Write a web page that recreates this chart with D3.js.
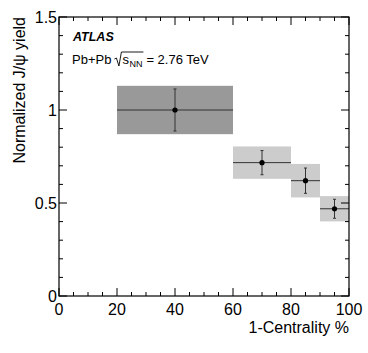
<!DOCTYPE html>
<html>
<head>
<meta charset="utf-8">
<script src="https://cdn.jsdelivr.net/npm/d3@7"></script>
<style>
  body { margin: 0; background: #fff; }
  text { font-family: "Liberation Sans", Arial, sans-serif; fill: #000; }
</style>
</head>
<body>
<div id="chart"></div>
<script>
"use strict";

// bins in 1-centrality (%)
const binLow = [20, 60, 80, 90];
const binHigh = [60, 80, 90, 100];
const binCenter = [40, 70, 85, 95];
// normalized J/psi yield
const yieldValue = [1.00, 0.717, 0.620, 0.469];
const statErr = [0.113, 0.065, 0.068, 0.051];
const sysErr = [0.130, 0.087, 0.090, 0.068];
const boxShade = ["#999999", "#cccccc", "#cccccc", "#cccccc"];

const xMajor = [0, 20, 40, 60, 80, 100];
const yMajor = [0, 0.5, 1, 1.5];

const data = binCenter.map((c, i) => ({
    lo: binLow[i], hi: binHigh[i], x: c,
    y: yieldValue[i], stat: statErr[i], sys: sysErr[i], fill: boxShade[i]
}));

const W = 368, H = 353;
const margin = { top: 17, right: 19, bottom: 57, left: 59 };
const width = W - margin.left - margin.right,
      height = H - margin.top - margin.bottom;

const svg = d3.select("#chart").append("svg")
    .attr("width", W).attr("height", H);
const g = svg.append("g")
    .attr("transform", "translate(" + margin.left + "," + margin.top + ")");

const x = d3.scaleLinear().domain([0, 100]).range([0, width]);
const y = d3.scaleLinear().domain([0, 1.5]).range([height, 0]);

// systematic boxes
g.selectAll("rect.sys").data(data).enter().append("rect")
    .attr("class", "sys")
    .attr("x", d => x(d.lo))
    .attr("width", d => x(d.hi) - x(d.lo))
    .attr("y", d => y(d.y + d.sys))
    .attr("height", d => y(d.y - d.sys) - y(d.y + d.sys))
    .attr("fill", d => d.fill);

// horizontal bars (bin width)
g.selectAll("line.hbar").data(data).enter().append("line")
    .attr("x1", d => x(d.lo)).attr("x2", d => x(d.hi))
    .attr("y1", d => y(d.y)).attr("y2", d => y(d.y))
    .attr("stroke", "#333").attr("stroke-width", 1);

// vertical stat error bars
g.selectAll("line.vbar").data(data).enter().append("line")
    .attr("x1", d => x(d.x)).attr("x2", d => x(d.x))
    .attr("y1", d => y(d.y + d.stat)).attr("y2", d => y(d.y - d.stat))
    .attr("stroke", "#333").attr("stroke-width", 1);
["stat+", "stat-"].forEach((k, j) => {
    g.selectAll("line.cap" + j).data(data).enter().append("line")
        .attr("x1", d => x(d.x) - 1.5).attr("x2", d => x(d.x) + 1.5)
        .attr("y1", d => y(j ? d.y - d.stat : d.y + d.stat))
        .attr("y2", d => y(j ? d.y - d.stat : d.y + d.stat))
        .attr("stroke", "#333").attr("stroke-width", 1);
});

// markers
g.selectAll("circle").data(data).enter().append("circle")
    .attr("cx", d => x(d.x)).attr("cy", d => y(d.y))
    .attr("r", 2.6).attr("fill", "#000");

// frame
g.append("rect").attr("width", width).attr("height", height)
    .attr("fill", "none").attr("stroke", "#000").attr("stroke-width", 1.2);

// ticks on all sides, pointing inward
const xMinor = d3.range(0, 101, 5);
const yMinor = d3.range(0, 16).map(i => i / 10);
const tickSel = g.append("g").attr("stroke", "#000").attr("stroke-width", 1);
xMinor.forEach(v => {
    const len = v % 20 === 0 ? 8 : 4;
    tickSel.append("line").attr("x1", x(v)).attr("x2", x(v)).attr("y1", height).attr("y2", height - len);
    tickSel.append("line").attr("x1", x(v)).attr("x2", x(v)).attr("y1", 0).attr("y2", len);
});
yMinor.forEach(v => {
    const len = Math.abs(v * 2 - Math.round(v * 2)) < 1e-6 ? 8 : 4;
    tickSel.append("line").attr("y1", y(v)).attr("y2", y(v)).attr("x1", 0).attr("x2", len);
    tickSel.append("line").attr("y1", y(v)).attr("y2", y(v)).attr("x1", width).attr("x2", width - len);
});

// tick labels
g.selectAll("text.xl").data(xMajor).enter().append("text")
    .attr("x", d => x(d)).attr("y", height + 19)
    .attr("text-anchor", "middle").attr("font-size", 16)
    .text(d => d);
g.selectAll("text.yl").data(yMajor).enter().append("text")
    .attr("x", -2).attr("y", d => y(d) + 6)
    .attr("text-anchor", "end").attr("font-size", 16)
    .text(d => d);

// axis titles
svg.append("text")
    .attr("x", W - margin.right).attr("y", 333)
    .attr("text-anchor", "end").attr("font-size", 16)
    .text("1-Centrality %");
svg.append("text")
    .attr("transform", "translate(25," + margin.top + ") rotate(-90)")
    .attr("text-anchor", "end").attr("font-size", 16)
    .text("Normalized J/\u03c8 yield");

// ATLAS label
svg.append("text")
    .attr("x", 73).attr("y", 41)
    .attr("font-size", 12.5).attr("font-weight", "bold").attr("font-style", "italic")
    .text("ATLAS");

// Pb+Pb sqrt(s_NN) = 2.76 TeV
const lx = 72, ly = 64, fs = 13;
const t1 = svg.append("text").attr("x", lx).attr("y", ly).attr("font-size", fs).text("Pb+Pb");
const w1 = t1.node().getComputedTextLength();
const rx = lx + w1 + 3;
const t2 = svg.append("text").attr("x", rx + 8).attr("y", ly).attr("font-size", fs).text("s");
const w2 = t2.node().getComputedTextLength();
const t3 = svg.append("text").attr("x", rx + 8 + w2 + 0.5).attr("y", ly + 3).attr("font-size", 9).text("NN");
const w3 = t3.node().getComputedTextLength();
const barEnd = rx + 8 + w2 + 0.5 + w3 + 1;
svg.append("path")
    .attr("d", "M" + rx + "," + (ly - 5) + " L" + (rx + 2) + "," + (ly - 6) +
        " L" + (rx + 4.5) + "," + (ly + 2) + " L" + (rx + 7) + "," + (ly - 12) +
        " L" + barEnd + "," + (ly - 12))
    .attr("fill", "none").attr("stroke", "#000").attr("stroke-width", 0.9);
svg.append("text").attr("x", barEnd + 3).attr("y", ly).attr("font-size", fs).text("= 2.76 TeV");
</script>
</body>
</html>
